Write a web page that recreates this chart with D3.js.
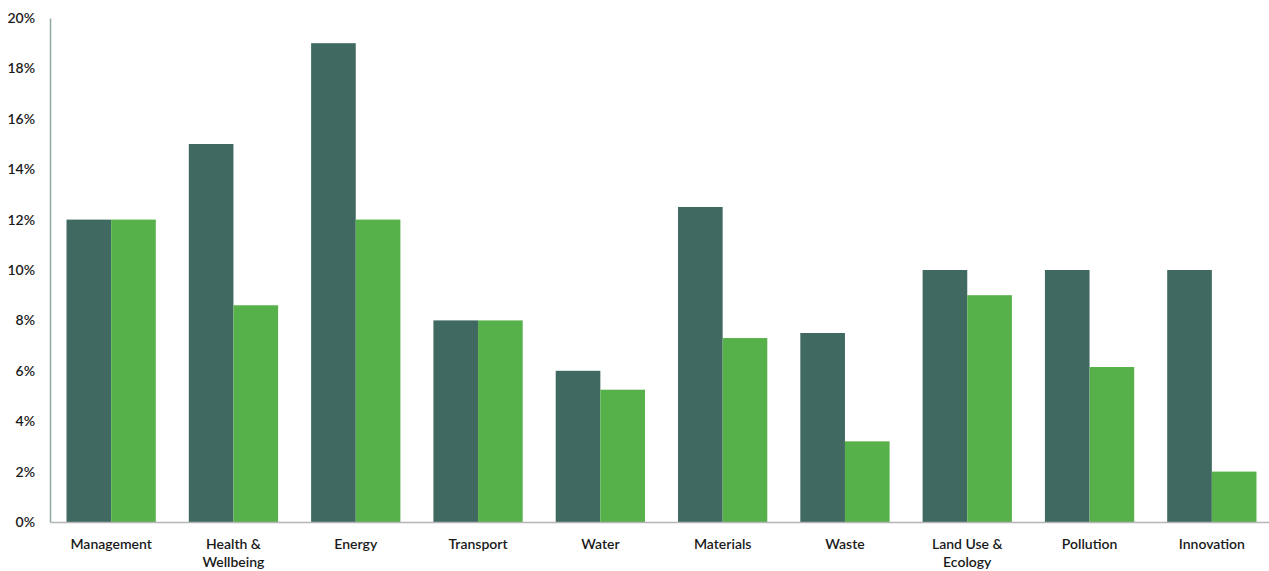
<!DOCTYPE html>
<html>
<head>
<meta charset="utf-8">
<script src="https://cdn.jsdelivr.net/npm/d3@7"></script>
<style>
  body { margin: 0; background: #fff; }
  text { font-family: Lato, "Open Sans", sans-serif; fill: #1a1a1a; }
</style>
</head>
<body>
<div id="chart"></div>
<script>
var categories = ["Management", "Health & Wellbeing", "Energy", "Transport", "Water",
                  "Materials", "Waste", "Land Use & Ecology", "Pollution", "Innovation"];
var seriesA = [12, 15, 19, 8, 6, 12.5, 7.5, 10, 10, 10];
var seriesB = [12, 8.6, 12, 8, 5.25, 7.3, 3.2, 9, 6.15, 2];
var yTicks = [0, 2, 4, 6, 8, 10, 12, 14, 16, 18, 20];

// two-line labels as in the picture
var labelLines = {
    "Health & Wellbeing": ["Health &", "Wellbeing"],
    "Land Use & Ecology": ["Land Use &", "Ecology"]
};

function init() {
    var w = 1269;
    var h = 571;

    var svg = d3.select("#chart")
                .append("svg")
                .attr("width", w)
                .attr("height", h);

    var xScale = d3.scaleBand()
                   .domain(categories)
                   .range([50, 1273])
                   .paddingInner(0.27)
                   .paddingOuter(0.135);

    var inner = d3.scaleBand()
                  .domain([0, 1])
                  .range([0, xScale.bandwidth()]);

    var yScale = d3.scaleLinear()
                   .domain([0, 20])
                   .range([522, 18]);

    var groups = svg.selectAll("g.cat")
                    .data(categories)
                    .enter()
                    .append("g")
                    .attr("class", "cat")
                    .attr("transform", function(d) {
                        return "translate(" + xScale(d) + ",0)";
                    });

    groups.append("rect")
          .attr("x", inner(0))
          .attr("y", function(d, i) { return yScale(seriesA[i]); })
          .attr("width", inner.bandwidth())
          .attr("height", function(d, i) { return yScale(0) - yScale(seriesA[i]); })
          .attr("fill", "#406962");

    groups.append("rect")
          .attr("x", inner(1))
          .attr("y", function(d, i) { return yScale(seriesB[i]); })
          .attr("width", inner.bandwidth())
          .attr("height", function(d, i) { return yScale(0) - yScale(seriesB[i]); })
          .attr("fill", "#57b14a");

    // y axis
    var yAxis = d3.axisLeft(yScale)
                  .tickValues(yTicks)
                  .tickSize(0)
                  .tickPadding(15)
                  .tickFormat(function(d) { return d + "%"; });

    var gy = svg.append("g")
                .attr("transform", "translate(50,0)")
                .call(yAxis);
    gy.select(".domain").attr("stroke", "#8fa9a5").attr("stroke-width", 1.5);
    gy.selectAll("text")
      .style("font-size", "14px")
      .style("font-weight", "600")
      .style("font-family", "Lato, sans-serif");

    // x axis
    var xAxis = d3.axisBottom(xScale).tickSize(0).tickFormat("");
    var gx = svg.append("g")
                .attr("transform", "translate(0,522)")
                .call(xAxis);
    gx.select(".domain").attr("stroke", "#b5b5b5").attr("stroke-width", 1.5);

    gx.selectAll(".tick").each(function(d) {
        var lines = labelLines[d] || [d];
        var t = d3.select(this).append("text")
                  .attr("text-anchor", "middle")
                  .style("font-size", "14px")
                  .style("font-weight", "600")
                  .style("fill", "#1a1a1a");
        lines.forEach(function(line, j) {
            t.append("tspan")
             .attr("x", 0)
             .attr("y", 27 + j * 18)
             .text(line);
        });
    });
}

window.onload = init;
</script>
</body>
</html>
